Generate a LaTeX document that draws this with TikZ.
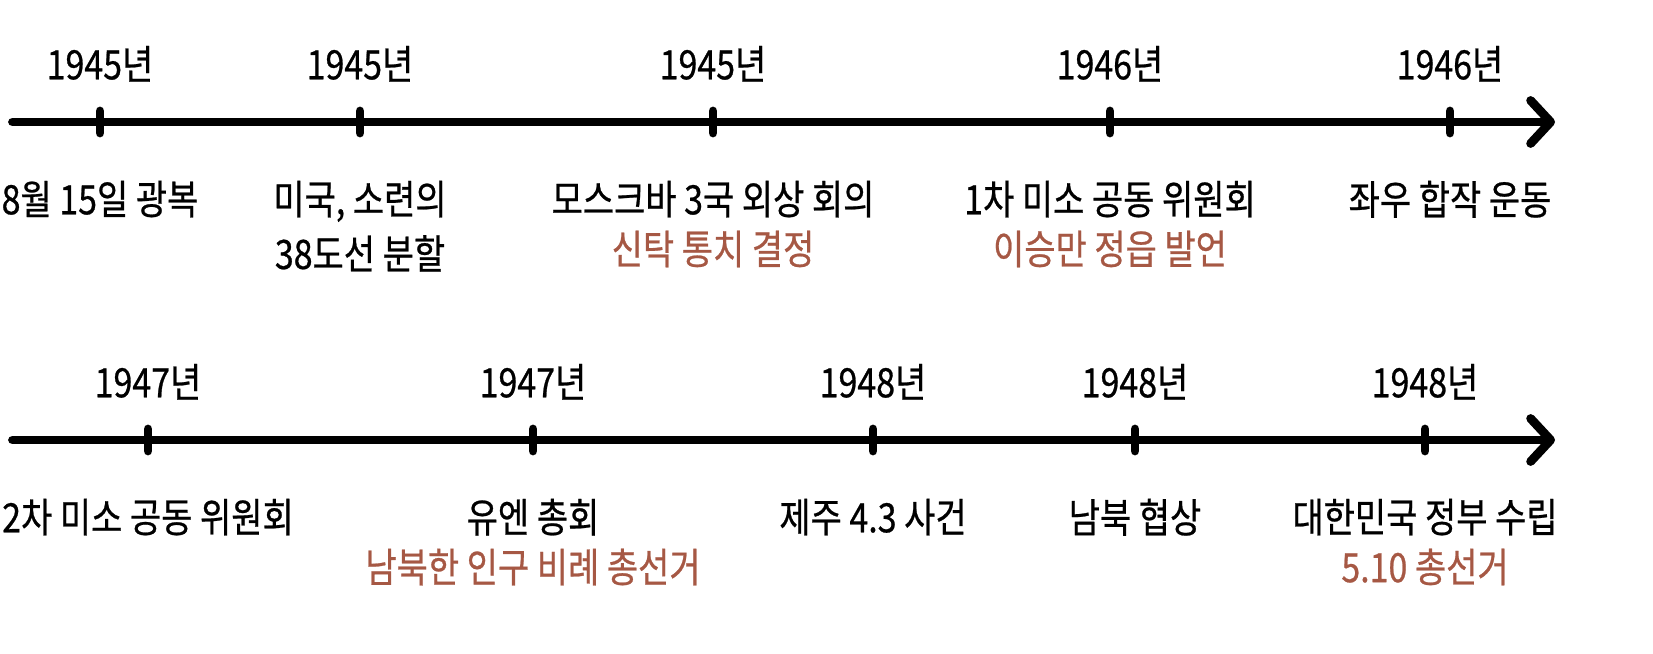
\documentclass[tikz,border=0pt]{standalone}
\usepackage{fontspec}
\usepackage{tikz}
\usetikzlibrary{arrows.meta,positioning,calc}
\newfontfamily\krfont[FakeStretch=0.84,FakeBold=0.6]{Noto Sans CJK KR}
\definecolor{eventred}{RGB}{166,88,68}

\begin{document}
\begin{tikzpicture}[
            node distance=1cm,
            axis/.style={line width=5pt, line cap=round, -{Straight Barb[round, length=0.4cm, width=0.86cm]}},
            tick/.style={line width=5pt, line cap=round},
            year/.style={inner sep=0pt, font=\krfont\fontsize{23}{27}\selectfont},
            event/.style={inner sep=0pt, font=\krfont\fontsize{23}{27}\selectfont},
            note/.style={event, text=eventred}
        ]
        \useasboundingbox (0,0) rectangle (33.06,-13.08);

        % first row
        \coordinate (a1s) at (0.25,-2.44);
        \coordinate (a1e) at (31.1,-2.44);
        \draw[axis] (a1s) -- (a1e);
        \coordinate (t1) at (2.00,-2.44);
        \coordinate (t2) at (7.20,-2.44);
        \coordinate (t3) at (14.26,-2.44);
        \coordinate (t4) at (22.20,-2.44);
        \coordinate (t5) at (29.00,-2.44);
        \foreach \t in {t1,t2,t3,t4,t5}
            \draw[tick] ($(\t)+(0,0.22)$) -- ($(\t)-(0,0.22)$);

        \node[year, above=0.8cm of t1] (y1) {1945년};
        \node[year, above=0.8cm of t2] (y2) {1945년};
        \node[year, above=0.8cm of t3] (y3) {1945년};
        \node[year, above=0.8cm of t4] (y4) {1946년};
        \node[year, above=0.8cm of t5] (y5) {1946년};

        \node[event, below=1.17cm of t1] (e1) {8월 15일 광복};
        \node[event, below=1.17cm of t2] (e2) {미국, 소련의};
        \node[event, below=0.25cm of e2] (e2b) {38도선 분할};
        \node[event, below=1.17cm of t3] (e3) {모스크바 3국 외상 회의};
        \node[note, below=0.25cm of e3] (n3) {신탁 통치 결정};
        \node[event, below=1.17cm of t4] (e4) {1차 미소 공동 위원회};
        \node[note, below=0.25cm of e4] (n4) {이승만 정읍 발언};
        \node[event, below=1.17cm of t5] (e5) {좌우 합작 운동};

        % second row
        \coordinate (a2s) at (0.25,-8.80);
        \coordinate (a2e) at (31.1,-8.80);
        \draw[axis] (a2s) -- (a2e);
        \coordinate (u1) at (2.96,-8.80);
        \coordinate (u2) at (10.66,-8.80);
        \coordinate (u3) at (17.46,-8.80);
        \coordinate (u4) at (22.70,-8.80);
        \coordinate (u5) at (28.50,-8.80);
        \foreach \t in {u1,u2,u3,u4,u5}
            \draw[tick] ($(\t)+(0,0.22)$) -- ($(\t)-(0,0.22)$);

        \node[year, above=0.8cm of u1] (z1) {1947년};
        \node[year, above=0.8cm of u2] (z2) {1947년};
        \node[year, above=0.8cm of u3] (z3) {1948년};
        \node[year, above=0.8cm of u4] (z4) {1948년};
        \node[year, above=0.8cm of u5] (z5) {1948년};

        \node[event, below=1.17cm of u1] (f1) {2차 미소 공동 위원회};
        \node[event, below=1.17cm of u2] (f2) {유엔 총회};
        \node[note, below=0.25cm of f2] (m2) {남북한 인구 비례 총선거};
        \node[event, below=1.17cm of u3] (f3) {제주 4.3 사건};
        \node[event, below=1.17cm of u4] (f4) {남북 협상};
        \node[event, below=1.17cm of u5] (f5) {대한민국 정부 수립};
        \node[note, below=0.25cm of f5] (m5) {5.10 총선거};
\end{tikzpicture}
\end{document}
